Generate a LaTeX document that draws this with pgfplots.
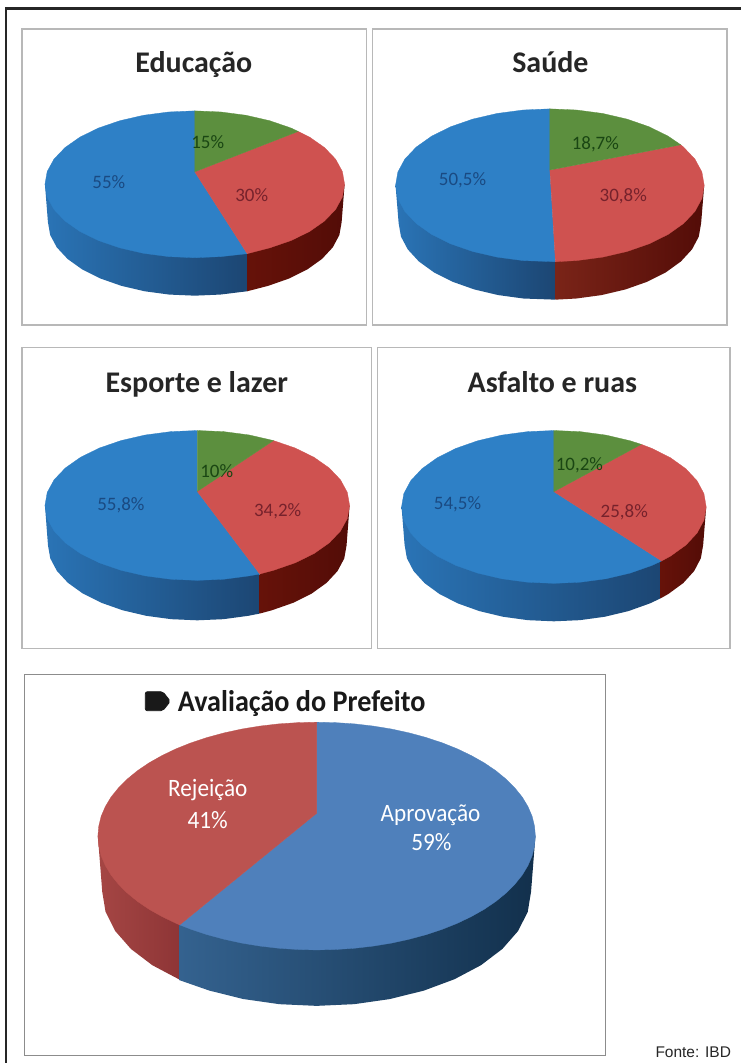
\documentclass[border=0pt]{standalone}
\usepackage{pgfplots}
\pgfplotsset{compat=1.18}
\usepackage{fontspec}
\setmainfont{Carlito}
\newfontfamily\arialf{Liberation Sans}
\definecolor{bluetop}{HTML}{2E80C6}
\definecolor{redtop}{HTML}{CF5250}
\definecolor{greentop}{HTML}{5C8F3E}
\definecolor{blueL}{HTML}{2A74B6}
\definecolor{blueM}{HTML}{2C69A3}
\definecolor{blueR}{HTML}{1C4673}
\definecolor{redL}{HTML}{661209}
\definecolor{redR}{HTML}{530C07}
\definecolor{saudeL}{HTML}{7A2418}
\definecolor{saudeM}{HTML}{5C100C}
\definecolor{bigblue}{HTML}{4F80BB}
\definecolor{bigred}{HTML}{BB5350}
\definecolor{bigblueL}{HTML}{34628F}
\definecolor{bigblueM}{HTML}{26507A}
\definecolor{bigblueR}{HTML}{12304C}
\definecolor{bigredL}{HTML}{A54644}
\definecolor{bigredR}{HTML}{8E3536}
\definecolor{lblue}{HTML}{1A4A82}
\definecolor{lred}{HTML}{76222C}
\definecolor{lgreen}{HTML}{1A4613}
\definecolor{panelframe}{HTML}{B8B8B8}
\pgfplotsset{
  pxaxis/.style={hide axis, scale only axis, clip=false, anchor=north west, at={(0pt,0pt)},
    width=742pt, height=1064pt, xmin=0, xmax=742, ymin=0, ymax=1064, y dir=reverse},
  pie/.style={hide axis, scale only axis, clip=false, anchor=center,
    xmin=-1, xmax=1, ymin=-1, ymax=1},
  pietop/.style={fill=#1, draw=#1, line width=0.3pt, mark=none},
  pieside/.style n args={4}{draw=none, mark=none, yshift=-#1pt, left color=#2, middle color=#3, right color=#4},
}
\newcommand{\ttl}[3]{\node[anchor=base, text=black!85, font=\fontsize{30}{30}\selectfont\bfseries] at (axis cs:#1,#2) {#3};}
\newcommand{\lab}[4]{\node[text=#1, font=\fontsize{19}{19}\selectfont] at (axis cs:#2,#3) {#4};}
\newcommand{\biglab}[3]{\node[anchor=base, text=white, xscale=.93, font=\fontsize{25}{25}\selectfont] at (axis cs:#1,#2) {#3};}
\begin{document}
\begin{tikzpicture}[x=1pt,y=1pt]
% ---------- frames
\begin{axis}[pxaxis]
\addplot[fill=white, draw=none, mark=none] coordinates {(0,0) (742,0) (742,1064) (0,1064)} --cycle;
\addplot[draw=black!85, line width=2.4pt, mark=none] coordinates {(6,1064) (6,8.3) (742,8.3)};
\addplot[draw=panelframe, line width=1.8pt, mark=none] coordinates {(22,29) (367,29) (367,325) (22,325)} --cycle;
\addplot[draw=panelframe, line width=1.8pt, mark=none] coordinates {(373,29) (728,29) (728,325) (373,325)} --cycle;
\addplot[draw=panelframe, line width=1.5pt, mark=none] coordinates {(22,348) (372,348) (372,649) (22,649)} --cycle;
\addplot[draw=panelframe, line width=1.5pt, mark=none] coordinates {(378,348) (731,348) (731,649) (378,649)} --cycle;
\addplot[draw=black!45, line width=0.8pt, mark=none] coordinates {(24,675) (606,675) (606,1057) (24,1057)} --cycle;
\end{axis}
% ---------- Educação
\begin{axis}[pie, at={(195pt,-184.5pt)}, width=300pt, height=147pt]
\addplot[pieside={38}{blueL}{blueM}{blueR}] coordinates {(-1,.517) (-.98,0) (-.965,-.174) (-.921,-.342) (-.849,-.5) (-.751,-.643) (-.63,-.766) (-.49,-.866) (-.335,-.94) (-.171,-.985) (0,-1) (.171,-.985) (.35,-.94) (.35,-.428)} --cycle;
\addplot[pieside={38}{redL}{redR}{redR}] coordinates {(.35,-.428) (.35,-.94) (.49,-.866) (.63,-.766) (.751,-.643) (.849,-.5) (.921,-.342) (.965,-.174) (.98,0) (1,.517)} --cycle;
\addplot[pietop=bluetop] coordinates {(0,.17) (0,1) (-.174,.985) (-.342,.94) (-.5,.866) (-.643,.766) (-.766,.643) (-.866,.5) (-.94,.342) (-.985,.174) (-1,0) (-.985,-.174) (-.94,-.342) (-.866,-.5) (-.766,-.643) (-.643,-.766) (-.5,-.866) (-.342,-.94) (-.174,-.985) (0,-1) (.174,-.985) (.35,-.945)} --cycle;
\addplot[pietop=redtop] coordinates {(0,.17) (.35,-.945) (.5,-.866) (.643,-.766) (.766,-.643) (.866,-.5) (.94,-.342) (.985,-.174) (1,0) (.985,.174) (.94,.342) (.866,.5) (.766,.643) (.69,.72)} --cycle;
\addplot[pietop=greentop] coordinates {(0,.17) (.69,.72) (.643,.766) (.5,.866) (.342,.94) (.174,.985) (0,1)} --cycle;
\end{axis}
% ---------- Saúde
\begin{axis}[pie, at={(550.5pt,-185.5pt)}, width=309pt, height=153pt]
\addplot[pieside={38}{blueL}{blueM}{blueR}] coordinates {(-1,.497) (-.98,0) (-.965,-.174) (-.921,-.342) (-.849,-.5) (-.751,-.643) (-.63,-.766) (-.49,-.866) (-.335,-.94) (-.171,-.985) (.036,-1) (.036,-.503)} --cycle;
\addplot[pieside={38}{saudeL}{saudeM}{redR}] coordinates {(.036,-.503) (.036,-1) (.171,-.985) (.335,-.94) (.49,-.866) (.63,-.766) (.751,-.643) (.849,-.5) (.921,-.342) (.965,-.174) (.98,0) (1,.497)} --cycle;
\addplot[pietop=bluetop] coordinates {(0,.2) (0,1) (-.174,.985) (-.342,.94) (-.5,.866) (-.643,.766) (-.766,.643) (-.866,.5) (-.94,.342) (-.985,.174) (-1,0) (-.985,-.174) (-.94,-.342) (-.866,-.5) (-.766,-.643) (-.643,-.766) (-.5,-.866) (-.342,-.94) (-.174,-.985) (.036,-1)} --cycle;
\addplot[pietop=redtop] coordinates {(0,.2) (.036,-1) (.174,-.985) (.342,-.94) (.5,-.866) (.643,-.766) (.766,-.643) (.866,-.5) (.94,-.342) (.985,-.174) (1,0) (.985,.174) (.94,.342) (.866,.5) (.848,.53)} --cycle;
\addplot[pietop=greentop] coordinates {(0,.2) (.848,.53) (.766,.643) (.643,.766) (.5,.866) (.342,.94) (.174,.985) (0,1)} --cycle;
\end{axis}
% ---------- Esporte e lazer
\begin{axis}[pie, at={(197.5pt,-506pt)}, width=305pt, height=150pt]
\addplot[pieside={40}{blueL}{blueM}{blueR}] coordinates {(-1,.533) (-.98,0) (-.965,-.174) (-.921,-.342) (-.849,-.5) (-.751,-.643) (-.63,-.766) (-.49,-.866) (-.335,-.94) (-.171,-.985) (0,-1) (.171,-.985) (.335,-.94) (.41,-.91) (.41,-.387)} --cycle;
\addplot[pieside={40}{redL}{redR}{redR}] coordinates {(.41,-.387) (.41,-.91) (.49,-.866) (.63,-.766) (.751,-.643) (.849,-.5) (.921,-.342) (.965,-.174) (.98,0) (1,.533)} --cycle;
\addplot[pietop=bluetop] coordinates {(0,.187) (0,1) (-.174,.985) (-.342,.94) (-.5,.866) (-.643,.766) (-.766,.643) (-.866,.5) (-.94,.342) (-.985,.174) (-1,0) (-.985,-.174) (-.94,-.342) (-.866,-.5) (-.766,-.643) (-.643,-.766) (-.5,-.866) (-.342,-.94) (-.174,-.985) (0,-1) (.174,-.985) (.342,-.94) (.41,-.915)} --cycle;
\addplot[pietop=redtop] coordinates {(0,.187) (.41,-.915) (.5,-.866) (.643,-.766) (.766,-.643) (.866,-.5) (.94,-.342) (.985,-.174) (1,0) (.985,.174) (.94,.342) (.866,.5) (.766,.643) (.643,.766) (.5,.866)} --cycle;
\addplot[pietop=greentop] coordinates {(0,.187) (.5,.866) (.342,.94) (.174,.985) (0,1)} --cycle;
\end{axis}
% ---------- Asfalto e ruas
\begin{axis}[pie, at={(554.5pt,-507.5pt)}, width=305pt, height=153pt]
\addplot[pieside={38}{blueL}{blueM}{blueR}] coordinates {(-1,.497) (-.98,0) (-.965,-.174) (-.921,-.342) (-.849,-.5) (-.751,-.643) (-.63,-.766) (-.49,-.866) (-.335,-.94) (-.171,-.985) (0,-1) (.171,-.985) (.335,-.94) (.49,-.866) (.63,-.766) (.7,-.7) (.7,-.21)} --cycle;
\addplot[pieside={38}{redL}{redR}{redR}] coordinates {(.7,-.21) (.7,-.7) (.751,-.643) (.849,-.5) (.921,-.342) (.965,-.174) (.98,0) (1,.497)} --cycle;
\addplot[pietop=bluetop] coordinates {(0,.2) (0,1) (-.174,.985) (-.342,.94) (-.5,.866) (-.643,.766) (-.766,.643) (-.866,.5) (-.94,.342) (-.985,.174) (-1,0) (-.985,-.174) (-.94,-.342) (-.866,-.5) (-.766,-.643) (-.643,-.766) (-.5,-.866) (-.342,-.94) (-.174,-.985) (0,-1) (.174,-.985) (.342,-.94) (.5,-.866) (.643,-.766) (.707,-.707)} --cycle;
\addplot[pietop=redtop] coordinates {(0,.2) (.707,-.707) (.766,-.643) (.866,-.5) (.94,-.342) (.985,-.174) (1,0) (.985,.174) (.94,.342) (.866,.5) (.766,.643) (.643,.766) (.574,.819)} --cycle;
\addplot[pietop=greentop] coordinates {(0,.2) (.574,.819) (.5,.866) (.342,.94) (.174,.985) (0,1)} --cycle;
\end{axis}
% ---------- Avaliação do Prefeito
\begin{axis}[pie, at={(317pt,-837pt)}, width=438pt, height=228pt]
\addplot[pieside={56}{bigredL}{bigredL}{bigredR}] coordinates {(-1,.49) (-.98,0) (-.965,-.174) (-.921,-.342) (-.849,-.5) (-.751,-.643) (-.63,-.766) (-.626,-.775) (-.626,-.29)} --cycle;
\addplot[pieside={56}{bigblueL}{bigblueM}{bigblueR}] coordinates {(-.626,-.29) (-.626,-.775) (-.49,-.866) (-.335,-.94) (-.171,-.985) (0,-1) (.171,-.985) (.335,-.94) (.49,-.866) (.63,-.766) (.751,-.643) (.849,-.5) (.921,-.342) (.965,-.174) (.98,0) (1,.49)} --cycle;
\addplot[pietop=bigblue] coordinates {(0,.2) (0,1) (.087,.996) (.174,.985) (.259,.966) (.342,.94) (.423,.906) (.5,.866) (.574,.819) (.643,.766) (.707,.707) (.766,.643) (.819,.574) (.866,.5) (.906,.423) (.94,.342) (.966,.259) (.985,.174) (.996,.087) (1,0) (.996,-.087) (.985,-.174) (.966,-.259) (.94,-.342) (.906,-.423) (.866,-.5) (.819,-.574) (.766,-.643) (.707,-.707) (.643,-.766) (.574,-.819) (.5,-.866) (.423,-.906) (.342,-.94) (.259,-.966) (.174,-.985) (.087,-.996) (0,-1) (-.087,-.996) (-.174,-.985) (-.259,-.966) (-.342,-.94) (-.423,-.906) (-.5,-.866) (-.574,-.819) (-.626,-.78)} --cycle;
\addplot[pietop=bigred] coordinates {(0,.2) (-.626,-.78) (-.643,-.766) (-.707,-.707) (-.766,-.643) (-.819,-.574) (-.866,-.5) (-.906,-.423) (-.94,-.342) (-.966,-.259) (-.985,-.174) (-.996,-.087) (-1,0) (-.996,.087) (-.985,.174) (-.966,.259) (-.94,.342) (-.906,.423) (-.866,.5) (-.819,.574) (-.766,.643) (-.707,.707) (-.643,.766) (-.574,.819) (-.5,.866) (-.423,.906) (-.342,.94) (-.259,.966) (-.174,.985) (-.087,.996) (0,1)} --cycle;
\end{axis}
% ---------- texts
\begin{axis}[pxaxis]
\ttl{194}{73}{Educação}
\ttl{551}{73}{Saúde}
\ttl{197}{393}{Esporte e lazer}
\ttl{553}{393}{Asfalto e ruas}
\lab{lgreen}{208}{142}{15\%}
\lab{lblue}{109}{182}{55\%}
\lab{lred}{252}{195}{30\%}
\lab{lgreen}{596}{144}{18,7\%}
\lab{lblue}{463}{180}{50,5\%}
\lab{lred}{624}{196}{30,8\%}
\lab{lgreen}{217}{472}{10\%}
\lab{lblue}{121}{506}{55,8\%}
\lab{lred}{278}{512}{34,2\%}
\lab{lgreen}{580}{466}{10,2\%}
\lab{lblue}{458}{505}{54,5\%}
\lab{lred}{625}{513}{25,8\%}
\addplot[fill=black!90, draw=black!90, line width=0.8pt, rounded corners=2pt, mark=none] coordinates {(145.5,692.5) (163,692.5) (170.5,702) (163,711.5) (145.5,711.5)} --cycle;
\node[anchor=base, xscale=.94, text=black!90, font=\fontsize{30}{30}\selectfont\bfseries] at (axis cs:302,712) {Avaliação do Prefeito};
\biglab{208}{797}{Rejeição}
\biglab{208}{829}{41\%}
\biglab{431}{822}{Aprovação}
\biglab{432}{851}{59\%}
\node[anchor=base, text=black!85, font=\arialf\fontsize{15.5}{15.5}\selectfont] at (axis cs:694,1059) {Fonte: IBD};
\end{axis}
\end{tikzpicture}
\end{document}
